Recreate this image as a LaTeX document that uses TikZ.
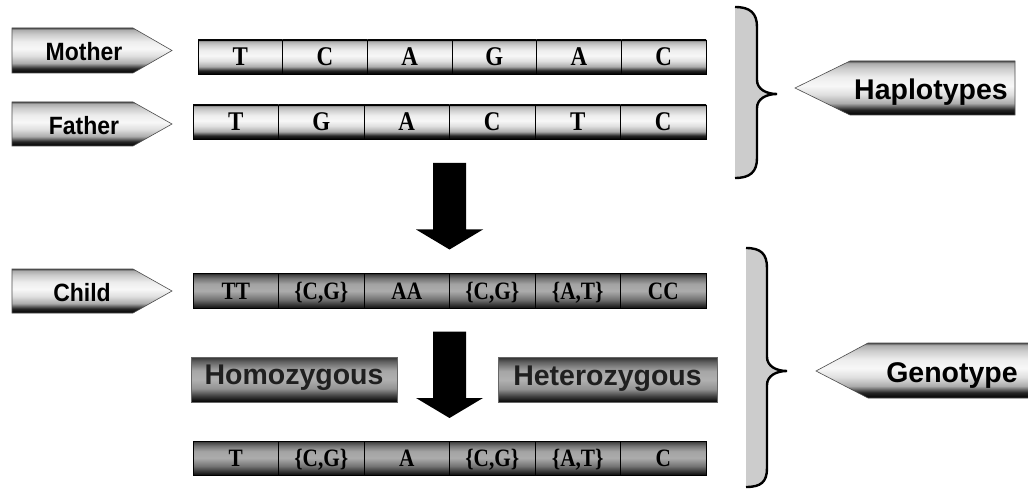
\documentclass[tikz,border=0pt]{standalone}
\usepackage{fontspec}
\setmainfont{Liberation Serif}
\newfontfamily\labelsans{Liberation Sans}
\newfontfamily\tagsans[FakeStretch=0.92]{Liberation Sans}
\newfontfamily\cellserif[FakeStretch=0.85]{Liberation Serif}
\usetikzlibrary{calc}

% cylinder-like vertical shadings (path box spans 25bp..75bp)
\pgfdeclareverticalshading{lightcyl}{100bp}{color(0bp)=(black); color(25bp)=(black); color(30bp)=(black!85); color(36bp)=(gray!65); color(44bp)=(gray!25); color(52bp)=(gray!6); color(60bp)=(gray!14); color(68bp)=(gray!40); color(73bp)=(gray!65); color(75bp)=(black!70); color(100bp)=(black!70)}
\pgfdeclareverticalshading{darkcyl}{100bp}{color(0bp)=(black); color(25bp)=(black!95); color(30bp)=(black!80); color(38bp)=(black!55); color(50bp)=(gray!65); color(60bp)=(gray!72); color(68bp)=(black!55); color(73bp)=(black!72); color(75bp)=(black!85); color(100bp)=(black!85)}
\pgfdeclareverticalshading{zygcyl}{100bp}{color(0bp)=(black); color(25bp)=(black); color(32bp)=(black!75); color(40bp)=(gray!85); color(50bp)=(gray!62); color(60bp)=(gray!70); color(70bp)=(black!62); color(75bp)=(black!80); color(100bp)=(black!80)}

\tikzset{
  tag/.style={draw=black!70, line width=0.6pt, shade, shading=lightcyl},
  tagtext/.style={inner sep=0pt, font=\tagsans\bfseries\fontsize{25}{25}\selectfont, text height=18pt, text depth=0pt},
  bigtext/.style={inner sep=0pt, font=\labelsans\bfseries\fontsize{28.5}{28.5}\selectfont, text height=20.5pt, text depth=0pt},
  basecell/.style={draw=black, line width=0.8pt, inner sep=0pt, outer sep=0pt, shade,
    font=\cellserif\bfseries\fontsize{27}{27}\selectfont, text height=18pt, text depth=0pt},
  lightcell/.style={basecell, shading=lightcyl, minimum height=34pt},
  darkcell/.style={basecell, shading=darkcyl, text=black, minimum height=35pt,
    font=\cellserif\bfseries\fontsize{25}{25}\selectfont, text height=16.5pt},
  zygbox/.style={bigtext, draw=black!60, line width=0.5pt, shade, shading=zygcyl,
    text=black!88, minimum height=45pt, text depth=10pt},
  bracestyle/.style={fill=gray!40, draw=black, line width=2.4pt},
  fat/.style={fill=black}
}

% thick block arrow from a start point down to a tip point
\newcommand\fatarrow[2]{%
  \fill[fat] ($(#1)+(-16.5,0)$) -- ($(#1)+(16.5,0)$) -- ($(#2)+(16.5,-20)$)
    -- ($(#2)+(33.5,-20)$) -- (#2) -- ($(#2)+(-33.5,-20)$) -- ($(#2)+(-16.5,-20)$) -- cycle;}

\begin{document}
\begin{tikzpicture}[x=1pt, y=-1pt]
\useasboundingbox (0,0) rectangle (1028,489);
\clip (0,0) rectangle (1028,489);
\fill[white] (0,0) rectangle (1028,489);

% left-hand tags
\path[tag] (12,28) -- (133,28) -- (172,50.5) -- (133,73) -- (12,73) -- cycle;
\node[tagtext] (mother) at (84,52) {Mother};
\path[tag] (12,102) -- (133,102) -- (172,124) -- (133,146) -- (12,146) -- cycle;
\node[tagtext] (father) at (84,125.5) {Father};
\path[tag] (12,269) -- (133,269) -- (172,291) -- (133,313) -- (12,313) -- cycle;
\node[tagtext] (child) at (82,292) {Child};

% haplotype strands
\foreach \t [count=\i] in {T,C,A,G,A,C}
  \node[lightcell, minimum width=84.67pt] (m\i) at ({198+84.67*(\i-0.5)},57) {\t};
\foreach \t [count=\i] in {T,G,A,C,T,C}
  \node[lightcell, minimum width=85.5pt] (f\i) at ({193+85.5*(\i-0.5)},122) {\t};

% genotype strands
\foreach \t [count=\i] in {TT,{\{C,G\}},AA,{\{C,G\}},{\{A,T\}},CC}
  \node[darkcell, minimum width=85.5pt] (c\i) at ({193+85.5*(\i-0.5)},291) {\t};
\foreach \t [count=\i] in {T,{\{C,G\}},A,{\{C,G\}},{\{A,T\}},C}
  \node[darkcell, minimum width=85.5pt, minimum height=34pt] (r\i) at ({193+85.5*(\i-0.5)},458) {\t};

% zygosity boxes
\node[zygbox, minimum width=206pt] (homo) at (294,379.5) {Homozygous};
\node[zygbox, minimum width=219pt] (hetero) at (607.5,380) {Heterozygous};

% block arrows
\coordinate (a1s) at ($(f3.south east)+(0,24)$);
\coordinate (a1t) at ($(c3.north east)+(0,-24)$);
\fatarrow{a1s}{a1t}
\coordinate (a2s) at ($(c3.south east)+(0,23)$);
\coordinate (a2t) at ($(r3.north east)+(0,-23)$);
\fatarrow{a2s}{a2t}

% braces
\path[bracestyle] (735,7) .. controls (750,7) and (757,13) .. (757,27) -- (757,80)
  .. controls (757,89) and (766,94) .. (777,94) .. controls (766,94) and (757,99) .. (757,108)
  -- (757,158) .. controls (757,172) and (750,178) .. (735,178);
\path[bracestyle] (746,248) .. controls (761,248) and (767,254) .. (767,268) -- (767,357)
  .. controls (767,366) and (776,371) .. (787,371) .. controls (776,371) and (767,376) .. (767,385)
  -- (767,468) .. controls (767,482) and (761,487) .. (746,487);

% right-hand tags
\path[tag] (1015,61) -- (850,61) -- (795,88) -- (850,115) -- (1015,115) -- cycle;
\node[bigtext] (hap) at (931,89) {Haplotypes};
\path[tag] (1040,343) -- (868,343) -- (816,371) -- (868,398) -- (1040,398) -- cycle;
\node[bigtext] (geno) at (952,372) {Genotype};
\end{tikzpicture}
\end{document}
